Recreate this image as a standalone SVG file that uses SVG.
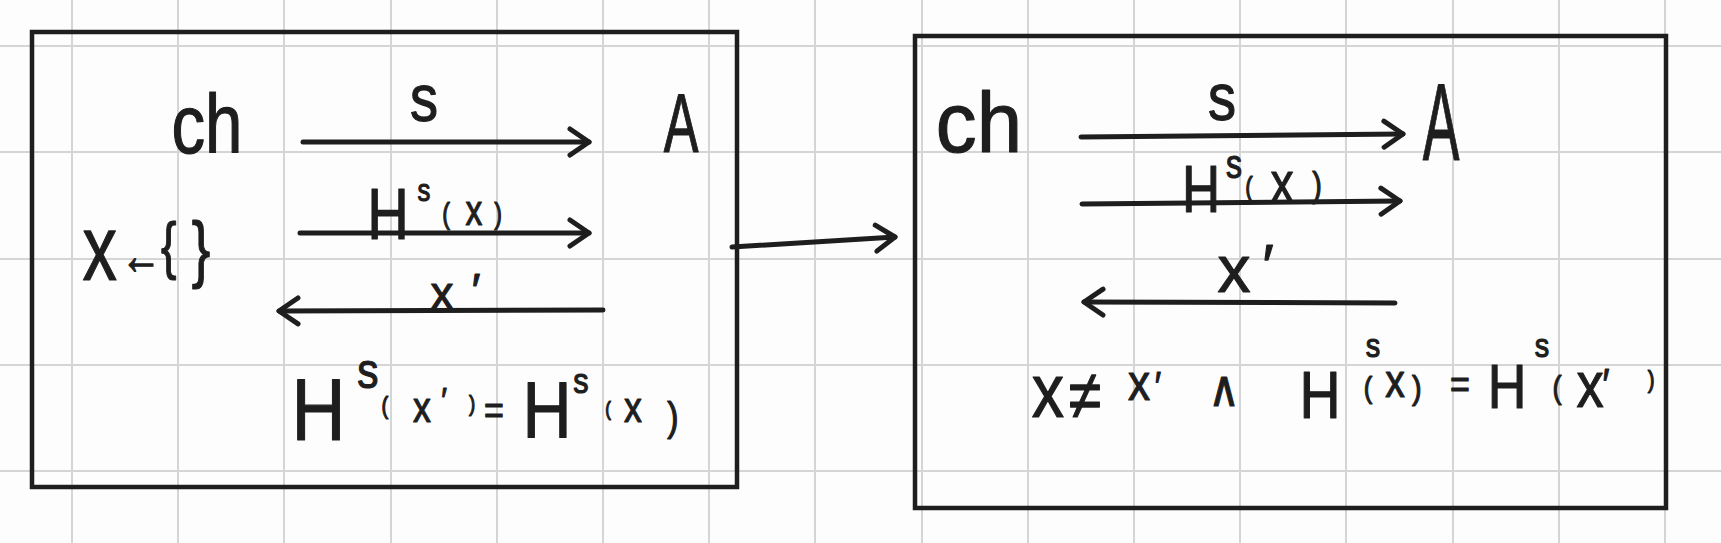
<svg xmlns="http://www.w3.org/2000/svg" width="1721" height="543" viewBox="0 0 1721 543">
<style>
.grid line{stroke:#d5d5d5;stroke-width:2}
.box{fill:none;stroke:#1e1e1e;stroke-width:4.5}
.wire{fill:none;stroke:#1e1e1e;stroke-width:5;stroke-linecap:round}
.t{font-family:"Liberation Sans","DejaVu Sans",sans-serif;fill:#1e1e1e;stroke:#1e1e1e;stroke-width:1.2;stroke-linejoin:round;text-anchor:middle}
</style>
<defs>
<marker id="ah" markerUnits="userSpaceOnUse" markerWidth="40" markerHeight="40" viewBox="-30 -20 40 40" refX="0" refY="0" orient="auto" overflow="visible">
<path d="M-19,-13 L0,0 L-19,13" fill="none" stroke="#1e1e1e" stroke-width="5" stroke-linecap="round" stroke-linejoin="round"/>
</marker>
</defs>
<rect width="1721" height="543" fill="#fdfdfd"/>
<g class="grid">
<line x1="72" y1="0" x2="72" y2="543"/><line x1="178" y1="0" x2="178" y2="543"/><line x1="284" y1="0" x2="284" y2="543"/><line x1="391" y1="0" x2="391" y2="543"/><line x1="497" y1="0" x2="497" y2="543"/><line x1="603" y1="0" x2="603" y2="543"/><line x1="709" y1="0" x2="709" y2="543"/><line x1="815" y1="0" x2="815" y2="543"/><line x1="922" y1="0" x2="922" y2="543"/><line x1="1028" y1="0" x2="1028" y2="543"/><line x1="1134" y1="0" x2="1134" y2="543"/><line x1="1240" y1="0" x2="1240" y2="543"/><line x1="1346" y1="0" x2="1346" y2="543"/><line x1="1453" y1="0" x2="1453" y2="543"/><line x1="1559" y1="0" x2="1559" y2="543"/><line x1="1665" y1="0" x2="1665" y2="543"/>
<line x1="0" y1="46" x2="1721" y2="46"/><line x1="0" y1="152" x2="1721" y2="152"/><line x1="0" y1="259" x2="1721" y2="259"/><line x1="0" y1="365" x2="1721" y2="365"/><line x1="0" y1="471" x2="1721" y2="471"/>
</g>
<g id="left-game">
<rect class="box" x="32" y="32" width="705" height="455"/>
<text class="t" transform="scale(0.8,1)" x="258.75" y="153" font-size="84">ch</text>
<text class="t" transform="scale(0.62,1)" x="1098.4" y="152" font-size="84">A</text>
<text class="t" transform="scale(0.75,1)"><tspan x="133" y="280" font-size="92">x</tspan><tspan x="188" y="274" font-size="54">←</tspan><tspan x="225" y="267" font-size="62">{</tspan><tspan x="268" y="274" font-size="74">}</tspan></text>
<text class="t" transform="scale(0.85,1)" x="498.8" y="121" font-size="66">s</text>
<text class="t" transform="scale(0.8,1)"><tspan x="485" y="239" font-size="72">H</tspan><tspan x="530" y="201" font-size="32">s</tspan><tspan x="557.5" y="224" font-size="29">(</tspan><tspan x="592.5" y="225" font-size="42">x</tspan><tspan x="622.5" y="224" font-size="29">)</tspan></text>
<text class="t"><tspan x="442" y="309" font-size="46">x</tspan><tspan x="476" y="306" font-size="46">′</tspan></text>
<text class="t" transform="scale(0.85,1)"><tspan x="374.7" y="440" font-size="88">H</tspan><tspan x="432.9" y="388" font-size="50">s</tspan><tspan x="452.9" y="414" font-size="24">(</tspan><tspan x="496.5" y="422" font-size="42">x</tspan><tspan x="522.4" y="412" font-size="36">′</tspan><tspan x="555.3" y="411" font-size="22">)</tspan><tspan x="581.2" y="424" font-size="40">=</tspan><tspan x="643.5" y="437" font-size="80">H</tspan><tspan x="683.5" y="393" font-size="36">s</tspan><tspan x="715.3" y="416" font-size="20">(</tspan><tspan x="744.7" y="422" font-size="42">x</tspan><tspan x="791.8" y="431" font-size="40">)</tspan></text>
</g>
<g id="right-game">
<rect class="box" x="915" y="36" width="751" height="472"/>
<text class="t" transform="scale(0.95,1)" x="1030.5" y="152" font-size="86">ch</text>
<text class="t" transform="scale(0.5,1)" x="2882" y="160" font-size="110">A</text>
<text class="t" transform="scale(0.85,1)" x="1437.6" y="120" font-size="66">s</text>
<text class="t" transform="scale(0.8,1)"><tspan x="1501.25" y="212" font-size="66">H</tspan><tspan x="1542.5" y="178" font-size="40">s</tspan><tspan x="1561.25" y="196" font-size="28">(</tspan><tspan x="1602.5" y="202" font-size="58">x</tspan><tspan x="1646.25" y="197" font-size="36">)</tspan></text>
<text class="t"><tspan x="1234" y="292" font-size="66">x</tspan><tspan x="1268" y="286" font-size="60">′</tspan></text>
<text class="t" transform="scale(0.85,1)"><tspan x="1232.9" y="417" font-size="76">x</tspan><tspan x="1276.5" y="419" font-size="70">≠</tspan><tspan x="1340" y="400" font-size="52">x</tspan><tspan x="1362.4" y="400" font-size="40">′</tspan><tspan x="1440" y="406" font-size="50">∧</tspan><tspan x="1552.9" y="418" font-size="67">H</tspan><tspan x="1615.3" y="357" font-size="34">s</tspan><tspan x="1609.4" y="398" font-size="30">(</tspan><tspan x="1641.2" y="397" font-size="46">x</tspan><tspan x="1667" y="399" font-size="34">)</tspan><tspan x="1717.6" y="398" font-size="40">=</tspan><tspan x="1772.9" y="408" font-size="63">H</tspan><tspan x="1814.1" y="357" font-size="34">s</tspan><tspan x="1831.8" y="398" font-size="32">(</tspan><tspan x="1870.6" y="407" font-size="64">x</tspan><tspan x="1889.4" y="400" font-size="44">′</tspan><tspan x="1942.4" y="388" font-size="24">)</tspan></text>
</g>
<g id="connectors">
<path class="wire" d="M303,142 L589,142" marker-end="url(#ah)"/>
<path class="wire" d="M300,233 L589,233" marker-end="url(#ah)"/>
<path class="wire" d="M603,310 L279,311" marker-end="url(#ah)"/>
<path class="wire" d="M1081,137 L1403,134" marker-end="url(#ah)"/>
<path class="wire" d="M1082,204 L1400,201" marker-end="url(#ah)"/>
<path class="wire" d="M1395,303 L1084,302" marker-end="url(#ah)"/>
<path class="wire" d="M732,247 L895,237" marker-end="url(#ah)"/>
</g>
</svg>
